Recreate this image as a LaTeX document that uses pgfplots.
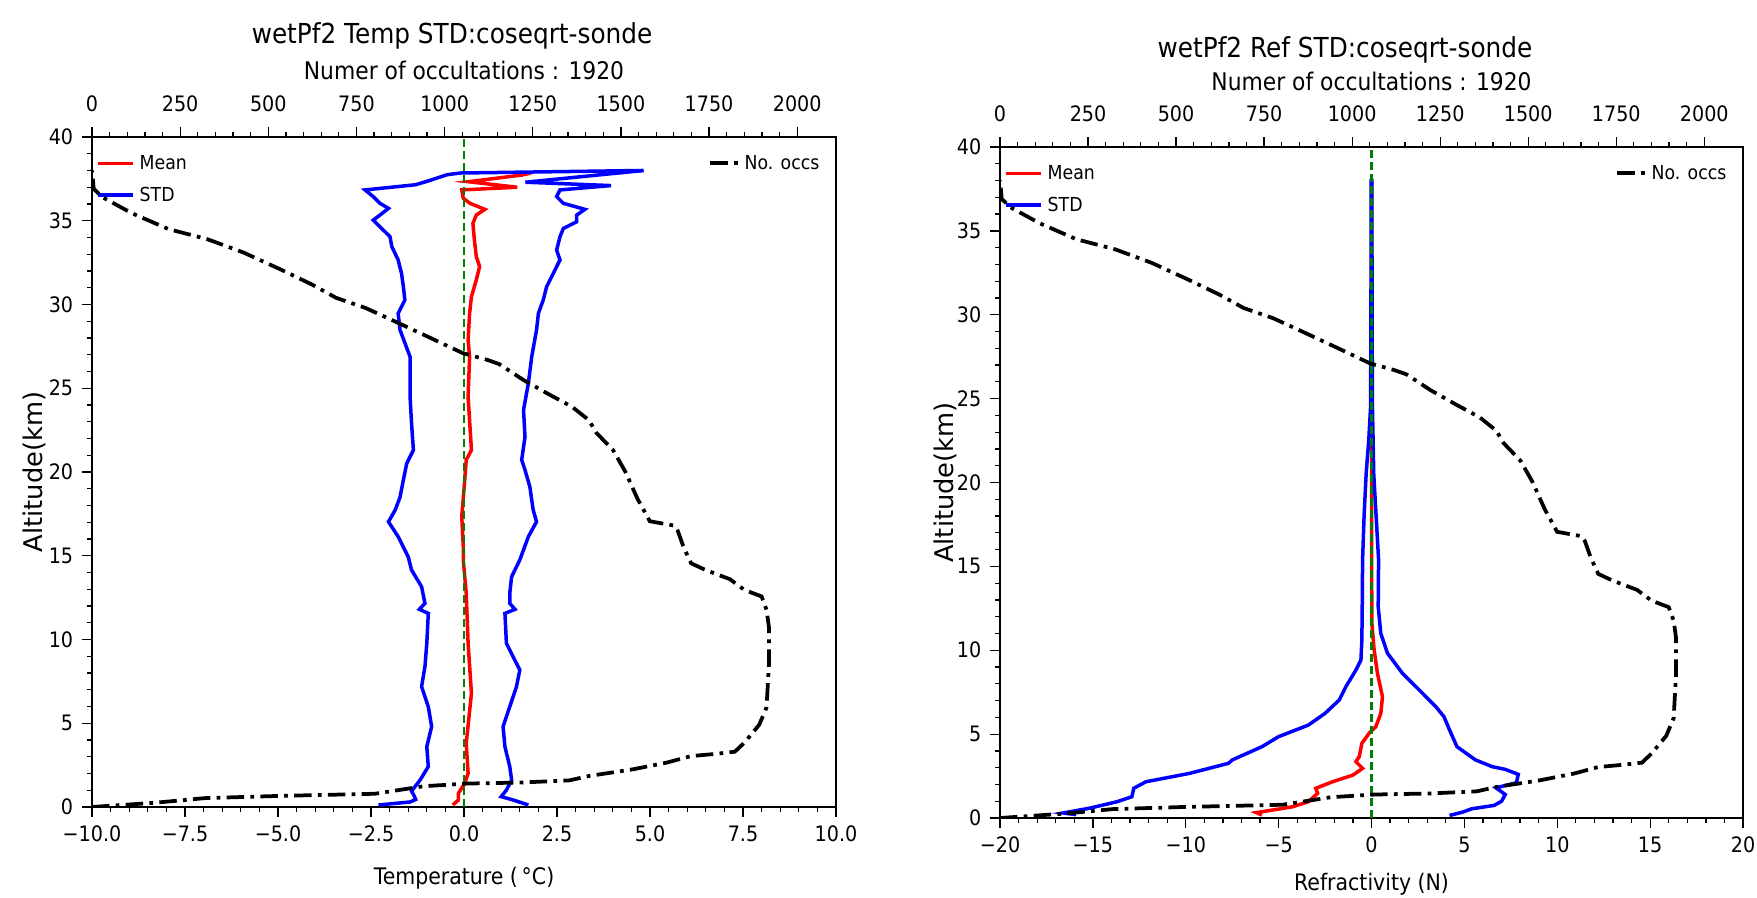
\documentclass[border=0pt]{standalone}
\usepackage{pgfplots}
\pgfplotsset{compat=1.18}
\usepackage{fontspec}
\setmainfont{DejaVu Sans}[FakeStretch=0.9]
\newfontfamily\ylabfont{DejaVu Sans}
\definecolor{mplgreen}{RGB}{0,128,0}

\pgfplotsset{
  base/.style={scale only axis, ymin=0, ymax=40,
    tick align=outside, major tick length=4pt, minor tick length=2pt,
    every tick/.style={black, line width=0.5pt},
    axis line style={line width=0.6pt},
    tick label style={font=\fontsize{8.5}{10}\selectfont},
    legend image code/.code={\draw[##1] (0pt,0pt) -- (14pt,0pt);},
  },
  mainax/.style={base,
    xtick pos=bottom, ytick pos=left,
    ytick={0,5,...,40}, yticklabels={0,5,10,15,20,25,30,35,40}, minor y tick num=4,
    minor x tick num=4,
    xlabel style={at={(axis description cs:0.5,#1)}, anchor=base, font=\fontsize{9.1}{11}\selectfont},
    ylabel style={anchor=center, font=\ylabfont\fontsize{10.3}{12}\selectfont},
    legend style={at={(axis description cs:0.005,0.982)}, anchor=north west, draw=none, fill=none,
      inner sep=0pt, row sep=1.6pt,
      nodes={inner sep=2pt, text height=6pt, text depth=1pt},
      font=\fontsize{7.7}{9}\selectfont},
    legend cell align=left,
  },
  topax/.style={base,
    xmin=0, xmax=2110, axis x line*=top, axis y line=none,
    xtick={0,250,...,2000}, xticklabels={0,250,500,750,1000,1250,1500,1750,2000},
    xticklabel shift=2.4pt,
    minor x tick num=4,
    xlabel style={at={(axis description cs:0.5,#1)}, anchor=base, font=\fontsize{9.7}{11}\selectfont},
    legend style={at={(axis description cs:0.985,0.982)}, anchor=north east, draw=none, fill=none,
      inner sep=0pt, nodes={inner sep=2pt, text height=6pt, text depth=1pt},
      font=\fontsize{7.7}{9}\selectfont},
    legend image code/.code={\draw[##1] (0pt,0pt) -- (11pt,0pt);},
  },
  occline/.style={black, line width=1.5pt, dash pattern=on 7pt off 2.5pt on 1.5pt off 2.5pt},
  meanline/.style={red, line width=1.4pt},
  stdline/.style={blue, line width=1.4pt},
  zeroline/.style={mplgreen, line width=1.1pt, dash pattern=on 3.2pt off 1.6pt},
}

\pgfplotstableread{
occ alt
0 0
182 0.26
320 0.53
527 0.66
802 0.79
885 1.06
940 1.24
1064 1.40
1216 1.46
1354 1.59
1409 1.85
1534 2.25
1630 2.65
1699 3.04
1768 3.17
1823 3.30
1850 3.84
1892 4.9
1913 5.95
1920 8.6
1920 10.7
1913 11.77
1899 12.57
1850 12.96
1809 13.6
1740 14.15
1699 14.55
1678 15.5
1661 16.5
1651 16.8
1582 17.06
1568 17.6
1547 18.4
1513 20.0
1478 21.3
1430 22.35
1409 23.1
1361 23.9
1299 24.6
1223 25.5
1154 26.45
1120 26.7
1051 27.1
940 28.2
858 29.0
775 29.8
692 30.4
623 31.2
534 32.1
430 33.1
327 33.9
217 34.5
113 35.45
30 36.4
5 36.9
0 38.0
}\occs

\begin{document}
\begin{tikzpicture}
\path[use as bounding box] (0pt,0pt) rectangle (702.8pt,358.8pt);

%================ LEFT: temperature =================
\begin{axis}[mainax=-0.1164, at={(36.8pt,36pt)}, anchor=south west,
  width=297.6pt, height=268pt,
  xmin=-10, xmax=10, xtick={-10,-7.5,...,10},
  xticklabels={−10.0,−7.5,−5.0,−2.5,0.0,2.5,5.0,7.5,10.0},
  xlabel={Temperature (\,°C)}, ylabel={Altitude(km)},
  ylabel style={at={(axis description cs:-0.078,0.5)}},
]
\addplot[meanline] coordinates {
(-0.30,0.12) (-0.15,0.42) (-0.15,0.82) (0.02,1.41) (0.11,2.01) (0.06,3.8) (0.20,6.79)
(0.11,9.77) (0.06,12.76) (-0.02,14.75) (-0.02,15.54) (-0.06,17.33) (0.02,19.52) (0.06,20.72)
(0.20,21.31) (0.11,24.49) (0.15,26.88) (0.11,27.88) (0.15,29.47) (0.20,30.47) (0.33,31.46)
(0.42,32.26) (0.33,32.86) (0.28,33.85) (0.24,34.84) (0.33,35.34) (0.56,35.68) (0.16,36.04)
(-0.02,36.34) (-0.06,36.84) (1.43,37.0) (0.12,37.33) (1.56,37.73) (1.8,37.85)};
\addlegendentry{Mean}
\addplot[stdline] coordinates {
(-2.30,0.12) (-1.45,0.30) (-1.30,0.45) (-1.35,0.72) (-1.41,0.95) (-1.18,1.61) (-0.96,2.41)
(-1.00,3.6) (-0.87,4.8) (-0.96,5.99) (-1.14,7.18) (-1.05,8.38) (-1.00,9.77) (-0.96,11.56)
(-1.20,11.8) (-1.05,12.16) (-1.14,13.15) (-1.41,14.15) (-1.50,14.94) (-1.77,16.14) (-2.03,17.03)
(-1.85,17.73) (-1.72,18.5) (-1.63,19.52) (-1.54,20.51) (-1.36,21.31) (-1.41,22.9) (-1.45,24.49)
(-1.45,25.49) (-1.45,26.88) (-1.72,28.48) (-1.77,29.47) (-1.59,30.27) (-1.63,31.06) (-1.68,31.86)
(-1.77,32.66) (-1.94,33.45) (-1.99,34.05) (-2.26,34.64) (-2.44,35.04) (-2.26,35.34) (-2.03,35.74)
(-2.26,36.04) (-2.44,36.44) (-2.66,36.84) (-1.30,37.15) (-1.0,37.35) (-0.45,37.75) (-0.1,37.85) (4.8,38.0)};
\addlegendentry{STD}
\addplot[stdline, forget plot] coordinates {
(1.73,0.12) (1.32,0.42) (1.00,0.62) (1.14,1.01) (1.28,1.61) (1.23,2.41) (1.10,3.6) (1.05,4.8)
(1.23,5.99) (1.41,7.18) (1.50,8.18) (1.14,9.77) (1.10,11.56) (1.37,11.8) (1.23,12.16) (1.23,12.76)
(1.28,13.75) (1.50,14.75) (1.73,16.14) (1.95,17.03) (1.86,17.73) (1.77,19.12) (1.64,20.12)
(1.55,20.72) (1.64,22.1) (1.60,23.7) (1.73,25.29) (1.82,26.88) (1.95,28.48) (2.00,29.47)
(2.13,30.27) (2.22,31.06) (2.40,31.86) (2.58,32.66) (2.49,33.25) (2.58,34.05) (2.67,34.54)
(3.03,34.94) (3.03,35.34) (3.25,35.68) (2.67,36.04) (2.49,36.44) (2.58,36.84) (3.95,37.1)
(1.65,37.3) (4.83,38.0)};
\addplot[zeroline, forget plot] coordinates {(0,0) (0,40)};
\end{axis}

\begin{axis}[topax=1.0851, at={(36.8pt,36pt)}, anchor=south west,
  width=297.6pt, height=268pt,
  xlabel={Numer of occultations : 1920},
  title={wetPf2 Temp STD:coseqrt-sonde},
  title style={at={(axis description cs:0.4839,1.1418)}, anchor=base, yshift=-6.7pt, font=\fontsize{11}{13}\selectfont},
]
\addplot[occline] table[x=occ, y=alt] {\occs};
\addlegendentry{No. occs}
\end{axis}

%================ RIGHT: refractivity =================
\begin{axis}[mainax=-0.1073, at={(400pt,31.6pt)}, anchor=south west,
  width=297.2pt, height=268.4pt,
  xmin=-20, xmax=20, xtick={-20,-15,...,20},
  xticklabels={−20,−15,−10,−5,0,5,10,15,20},
  xlabel={Refractivity (N)}, ylabel={Altitude(km)},
  ylabel style={at={(axis description cs:-0.074,0.5)}},
]
\addplot[meanline] coordinates {
(-5.9,0.18) (-6.2,0.32) (-5.3,0.48) (-4.25,0.67) (-3.4,0.97) (-2.9,1.47) (-3.0,1.77) (-2.1,2.16)
(-1.0,2.56) (-0.48,2.96) (-0.84,3.36) (-0.66,3.66) (-0.52,4.45) (-0.13,5.05) (0.23,5.44)
(0.5,6.24) (0.59,7.23) (0.32,8.62) (0.14,10.02) (0.02,11.6) (0,16.6) (0,38.0)};
\addlegendentry{Mean}
\addplot[stdline] coordinates {
(-15.9,0.2) (-16.6,0.3) (-15.2,0.58) (-13.7,0.97) (-12.9,1.27) (-12.8,1.77) (-12.15,2.16)
(-9.8,2.66) (-7.7,3.26) (-7.5,3.46) (-5.9,4.25) (-5.0,4.85) (-3.4,5.54) (-2.5,6.24) (-1.74,7.03)
(-1.38,7.83) (-0.84,8.82) (-0.57,9.42) (-0.52,10.6) (-0.50,12.6) (-0.48,15.4) (-0.40,18.0)
(-0.29,20.5) (-0.15,22.5) (-0.05,24.5) (-0.03,30) (-0.02,38.1)};
\addlegendentry{STD}
\addplot[stdline, forget plot] coordinates {
(4.2,0.15) (4.9,0.35) (5.4,0.55) (6.6,0.75) (7.0,1.0) (7.2,1.4) (6.7,1.8) (7.8,2.1) (7.9,2.6)
(7.2,2.9) (6.5,3.06) (5.6,3.46) (4.6,4.25) (4.2,5.25) (3.9,6.04) (3.46,6.64) (2.57,7.63)
(1.67,8.62) (0.86,9.82) (0.5,11.0) (0.36,12.6) (0.38,15.4) (0.12,20.5) (0.05,24.5) (0.03,30) (0.02,38.1)};
\addplot[zeroline, forget plot] coordinates {(0,0) (0,40)};
\end{axis}

\begin{axis}[topax=1.0849, at={(400pt,31.6pt)}, anchor=south west,
  width=297.2pt, height=268.4pt,
  xlabel={Numer of occultations : 1920},
  title={wetPf2 Ref STD:coseqrt-sonde},
  title style={at={(axis description cs:0.4643,1.1401)}, anchor=base, yshift=-7.8pt, font=\fontsize{11}{13}\selectfont},
]
\addplot[occline] table[x=occ, y=alt] {\occs};
\addlegendentry{No. occs}
\end{axis}
\end{tikzpicture}
\end{document}
